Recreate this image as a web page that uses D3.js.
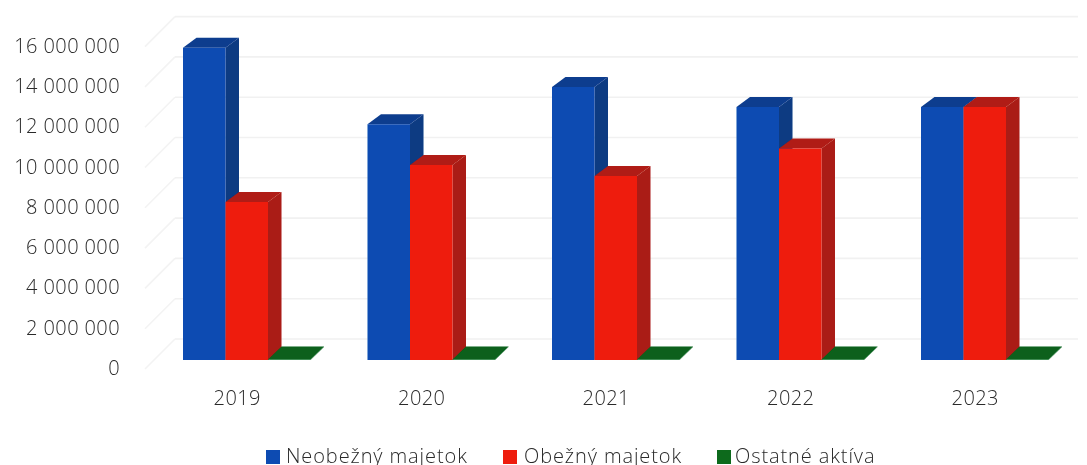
<!DOCTYPE html>
<html><head><meta charset="utf-8">
<script src="https://cdn.jsdelivr.net/npm/d3@7"></script>
<style>
html,body{margin:0;padding:0;background:#fff;overflow:hidden}
text{font-family:"Open Sans",sans-serif;font-weight:300;fill:#2a2a2a}
</style></head><body>
<svg id="c" width="1087" height="465"></svg>
<script>
const years=["2019","2020","2021","2022","2023"];
const seriesNames=["Neobežný majetok","Obežný majetok","Ostatné aktíva"];
const neobezny=[15500000,11700000,13550000,12550000,12550000];
const obezny=[7840000,9680000,9130000,10500000,12550000];
const ostatne=[30000,30000,30000,30000,30000];
const tickVals=[0,2000000,4000000,6000000,8000000,10000000,12000000,14000000,16000000];
const frontCol=["#0a4cb2","#ee1a10","#0a6a1e"];
const sideCol=["#0a3a82","#aa1c14","#085a18"];
const topCol=["#0a3c8e","#b01a12","#07601a"];
const depthYs=[-10,-10,-13];
const legendX=[266,503,717];
const legendTextX=[286,524,735];

const svg=d3.select("#c");
const defs=svg.append("defs");
defs.append("filter").attr("id","soft").append("feGaussianBlur").attr("stdDeviation",0.5);
const g=svg.append("g").attr("filter","url(#soft)");

const y=d3.scaleLinear().domain([0,16000000]).range([360,37.6]);
const x=d3.scaleBand().domain(years).range([145,1067.5]).padding(0);
const inner=d3.scaleBand().domain(seriesNames).range([38,165.5]).padding(0);

const fmt=v=>d3.format(",")(v).replace(/,/g," ");
const wallDy=-21, sideX0=145, sideX1=175;
tickVals.forEach(v=>{
  const yb=y(v)+wallDy;
  g.append("line").attr("x1",sideX1).attr("x2",1078).attr("y1",yb).attr("y2",yb)
    .attr("stroke","#f1f1f1").attr("stroke-width",1.6);
  g.append("line").attr("x1",sideX0).attr("x2",sideX1).attr("y1",yb+30).attr("y2",yb)
    .attr("stroke","#f3f3f3").attr("stroke-width",1.6);
});

tickVals.forEach(v=>{
  g.append("text").attr("x",120).attr("y",y(v)+15).attr("text-anchor","end")
   .attr("font-size",20).attr("letter-spacing",0.4).text(fmt(v));
});

const depthX=13.5;
const poly=(pts,fill)=>g.append("polygon").attr("points",pts.map(p=>p.join(",")).join(" ")).attr("fill",fill);
years.forEach((yr,i)=>{
  [neobezny,obezny,ostatne].forEach((arr,s)=>{
    const x0=x(yr)+inner(seriesNames[s]), x1=x0+inner.bandwidth();
    const yt=y(arr[i]), yb=y(0), d=depthYs[s];
    poly([[x1,yb],[x1+depthX,yb+d],[x1+depthX,yt+d],[x1,yt]],sideCol[s]);
    poly([[x0,yt],[x0+depthX,yt+d],[x1+depthX,yt+d],[x1,yt]],topCol[s]);
    poly([[x0,yt],[x1,yt],[x1,yb],[x0,yb]],frontCol[s]);
  });
  g.append("text").attr("x",x(yr)+x.bandwidth()/2).attr("y",405).attr("text-anchor","middle")
   .attr("font-size",20).attr("letter-spacing",0.4).text(yr);
});

seriesNames.forEach((n,s)=>{
  g.append("rect").attr("x",legendX[s]).attr("y",450).attr("width",14).attr("height",14).attr("fill",frontCol[s]);
  g.append("text").attr("x",legendTextX[s]).attr("y",463).attr("font-size",20).attr("letter-spacing",0.9).text(n);
});
</script></body></html>
